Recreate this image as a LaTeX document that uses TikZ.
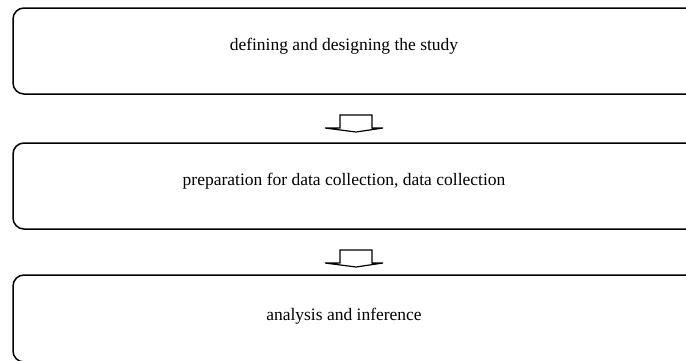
\documentclass[tikz,border=0pt]{standalone}
\usepackage{fontspec}
\setmainfont{Liberation Serif}
\begin{document}
\begin{tikzpicture}[x=1pt,y=-1pt,
  stagebox/.style={draw=black, line width=1.5pt, rounded corners=11pt, fill=white},
  stagetext/.style={font=\fontsize{17.5}{21}\selectfont, anchor=base, inner sep=0pt},
  blockarrow/.style={draw=black, line width=1.2pt, fill=white, line join=miter}]
\useasboundingbox (0,0) rectangle (686,360);
\clip (0,0) rectangle (686,360);

% three stage boxes, running off the right edge
\draw[stagebox] (13,8) rectangle (705,94);
\draw[stagebox] (13,143) rectangle (705,229);
\draw[stagebox] (13,275) rectangle (705,362);

\node[stagetext] (t1) at (344,50) {defining and designing the study};
\node[stagetext] (t2) at (344,185) {preparation for data collection, data collection};
\node[stagetext] (t3) at (344,320) {analysis and inference};

% flat block arrows between the stages
\coordinate (a1) at (356,115);
\coordinate (a2) at (356,250);
\foreach \a in {a1,a2}{
  \draw[blockarrow] (\a) ++(-16,0) -- ++(32,0) -- ++(0,13) -- ++(11,0)
     -- ++(-27,4) -- ++(-31,-4) -- ++(15,0) -- cycle;
}
\end{tikzpicture}
\end{document}
